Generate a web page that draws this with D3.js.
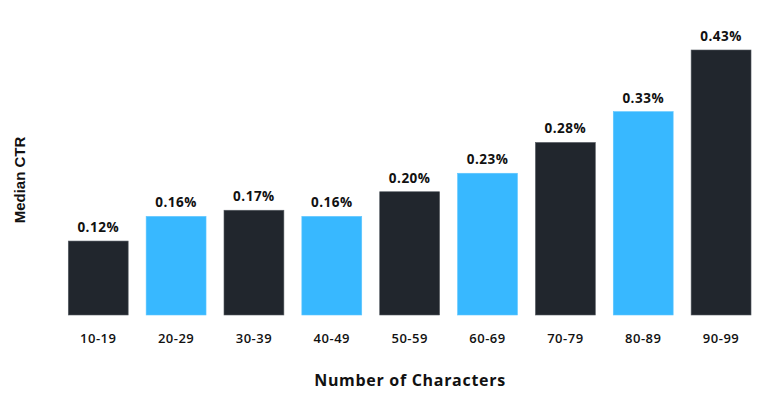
<!DOCTYPE html>
<html><head><meta charset="utf-8">
<script src="https://cdn.jsdelivr.net/npm/d3@7"></script>
<style>body{margin:0;background:#fff}</style>
</head><body>
<svg id="c" width="772" height="411"></svg>
<script>
const categories = ["10-19","20-29","30-39","40-49","50-59","60-69","70-79","80-89","90-99"];
const values = [0.12,0.16,0.17,0.16,0.20,0.23,0.28,0.33,0.43];
const valueLabels = ["0.12%","0.16%","0.17%","0.16%","0.20%","0.23%","0.28%","0.33%","0.43%"];
const barColors = ["#21262d","#38b8ff","#21262d","#38b8ff","#21262d","#38b8ff","#21262d","#38b8ff","#21262d"];

const svg = d3.select("#c");
const x = d3.scaleBand().domain(categories).range([59.3, 760]).paddingInner(0.2308).paddingOuter(0.1154);
const y = d3.scaleLinear().domain([0, 0.43]).range([315, 50]);

svg.selectAll("rect.bar").data(values).enter().append("rect")
  .attr("class","bar")
  .attr("x",(d,i)=>x(categories[i]))
  .attr("y",d=>y(d))
  .attr("width",x.bandwidth())
  .attr("height",d=>y(0)-y(d))
  .attr("fill",(d,i)=>barColors[i])
  .attr("stroke",(d,i)=>i%2?"#5ec6ff":"#555b62")
  .attr("stroke-width",0.6);

svg.selectAll("text.val").data(values).enter().append("text")
  .attr("x",(d,i)=>x(categories[i])+x.bandwidth()/2)
  .attr("y",d=>y(d)-9)
  .attr("text-anchor","middle")
  .attr("font-family","'Open Sans', sans-serif")
  .attr("font-weight",700)
  .attr("font-size",13.5)
  .attr("letter-spacing",0.5)
  .attr("fill","#111")
  .text((d,i)=>valueLabels[i]);

const xAxis = d3.axisBottom(x).tickSize(0).tickPadding(0);
const g = svg.append("g").attr("transform","translate(0,343)").call(xAxis);
g.select(".domain").remove();
g.selectAll("text").attr("font-family","'Open Sans', sans-serif").attr("font-weight",600)
  .attr("font-size",13).attr("letter-spacing",0.5).attr("fill","#111").attr("dy",0);

svg.append("text").attr("x",410).attr("y",386).attr("text-anchor","middle")
  .attr("font-family","'Open Sans', sans-serif").attr("font-weight",700).attr("font-size",16)
  .attr("letter-spacing",0.7)
  .attr("fill","#111").text("Number of Characters");

svg.append("text").attr("transform","translate(25,180) rotate(-90)").attr("text-anchor","middle")
  .attr("font-family","'Liberation Sans', Arial, sans-serif").attr("font-weight",700).attr("font-size",15)
  .attr("fill","#111").text("Median CTR");
</script>
</body></html>
